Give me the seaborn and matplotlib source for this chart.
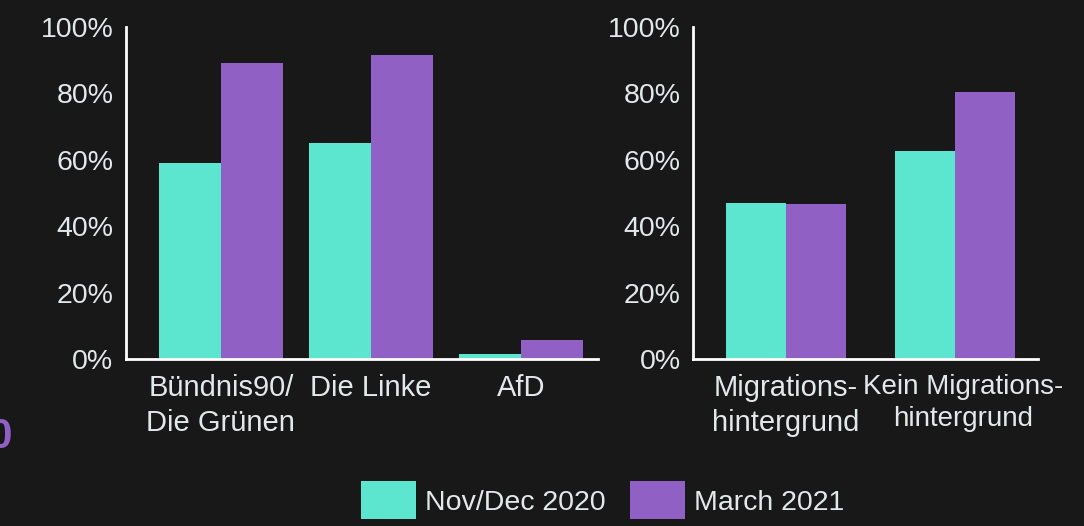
import pandas as pd
import matplotlib
matplotlib.use("Agg")
import matplotlib.pyplot as plt
import seaborn as sns
from matplotlib.patches import Patch
from matplotlib.ticker import PercentFormatter

BG = "#181818"
FG = "#e3e8ea"
GREEN = "#5ce6cf"
PURPLE = "#9060c4"

waves = ["Nov/Dec 2020", "March 2021"]

parties = ["Bündnis90/\nDie Grünen", "Die Linke", "AfD"]
party_nov = [0.59, 0.652, 0.015]
party_mar = [0.892, 0.916, 0.057]

migration = ["Migrations-\nhintergrund", "Kein Migrations-\nhintergrund"]
migration_nov = [0.471, 0.628]
migration_mar = [0.468, 0.805]

df_party = pd.DataFrame({
    "group": parties * 2,
    "wave": [waves[0]] * len(parties) + [waves[1]] * len(parties),
    "value": party_nov + party_mar,
})
df_mig = pd.DataFrame({
    "group": migration * 2,
    "wave": [waves[0]] * len(migration) + [waves[1]] * len(migration),
    "value": migration_nov + migration_mar,
})

sns.set_style("dark")
plt.rcParams["font.family"] = ["Liberation Sans", "DejaVu Sans"]
plt.rcParams["font.size"] = 20.5

fig = plt.figure(figsize=(10.84, 5.26), dpi=100, facecolor=BG)
ax1 = fig.add_axes([0.1162, 0.3175, 0.4354, 0.631])
ax2 = fig.add_axes([0.6393, 0.3175, 0.3183, 0.631])

palette = {waves[0]: GREEN, waves[1]: PURPLE}

sns.barplot(data=df_party, x="group", y="value", hue="wave", palette=palette,
            width=0.83, saturation=1, legend=False, linewidth=0, ax=ax1)
sns.barplot(data=df_mig, x="group", y="value", hue="wave", palette=palette,
            width=0.71, saturation=1, legend=False, linewidth=0, ax=ax2)

for ax, xl in [(ax1, (-0.633, 2.513)), (ax2, (-0.55, 1.491))]:
    ax.set_facecolor(BG)
    ax.set_xlim(*xl)
    ax.set_ylim(0, 1)
    ax.set_yticks([0, 0.2, 0.4, 0.6, 0.8, 1.0])
    ax.yaxis.set_major_formatter(PercentFormatter(1.0, decimals=0))
    ax.set_xlabel("")
    ax.set_ylabel("")
    ax.grid(False)
    for s in ["top", "right"]:
        ax.spines[s].set_visible(False)
    for s in ["left", "bottom"]:
        ax.spines[s].set_visible(True)
        ax.spines[s].set_color("white")
        ax.spines[s].set_linewidth(2)
    ax.tick_params(axis="both", length=0, colors=FG, labelsize=20.5)
    ax.tick_params(axis="y", pad=9)
    ax.tick_params(axis="x", pad=11)

for lab in ax1.get_xticklabels():
    lab.set_fontsize(21)
    lab.set_linespacing(1.3)

# right panel labels drawn by hand: the second one sits a bit to the right
# and is tighter, as in the original
ax2.set_xticklabels([])
for i, (name, size, dx) in enumerate(zip(migration, [21, 20], [0, 5.8])):
    ax2.annotate(name, xy=(i, 0), xycoords=("data", "axes fraction"),
                 xytext=(dx, -11), textcoords="offset points",
                 ha="center", va="top", fontsize=size, color=FG,
                 linespacing=1.3)

# cut-off title fragment at the left edge
fig.text(0.012, 0.169, "2020", color=PURPLE, fontsize=30, fontweight="bold",
         ha="right", va="center")

handles = [Patch(facecolor=GREEN, edgecolor="none"), Patch(facecolor=PURPLE, edgecolor="none")]
fig.legend(handles, waves, loc="center left", bbox_to_anchor=(0.333, 0.049),
           ncol=2, frameon=False, fontsize=20.5, labelcolor=FG,
           handlelength=1.93, handleheight=1.65, handletextpad=0.32,
           columnspacing=0.84, borderpad=0, borderaxespad=0)

fig.savefig("out.png", dpi=100, facecolor=BG)
